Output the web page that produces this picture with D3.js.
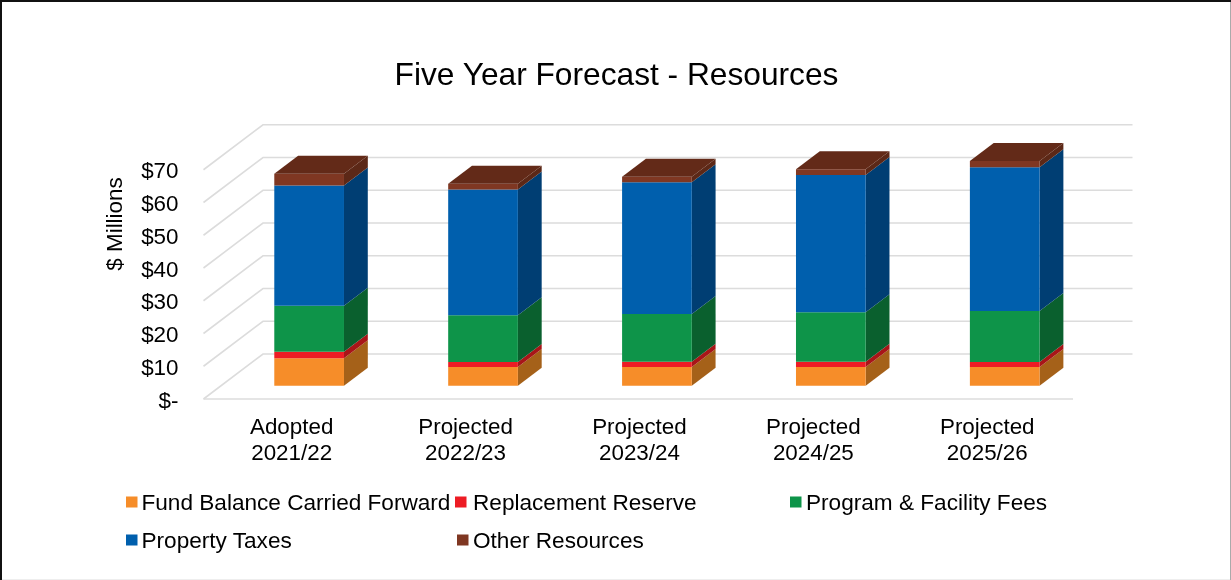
<!DOCTYPE html>
<html>
<head>
<meta charset="utf-8">
<script src="https://cdnjs.cloudflare.com/ajax/libs/d3/7.8.5/d3.min.js"></script>
<style>
html,body{margin:0;padding:0;background:#fff;overflow:hidden}
svg{display:block;font-family:"Liberation Sans",Arial,sans-serif;fill:#000;filter:blur(0.35px)}
</style>
</head>
<body>
<svg id="c" width="1231" height="580"></svg>
<script>
const categories = ["Adopted 2021/22","Projected 2022/23","Projected 2023/24","Projected 2024/25","Projected 2025/26"];
const seriesNames = ["Fund Balance Carried Forward","Replacement Reserve","Program & Facility Fees","Property Taxes","Other Resources"];
const fundBalance = [8.4,5.7,5.7,5.7,5.7];
const replacementReserve = [2.0,1.5,1.6,1.6,1.5];
const programFees = [14.0,14.3,14.6,15.1,15.6];
const propertyTaxes = [36.7,38.4,40.2,41.9,43.9];
const otherResources = [3.6,1.8,1.7,1.8,1.9];
const seriesValues = [fundBalance,replacementReserve,programFees,propertyTaxes,otherResources];
const frontColors = ["#F68D29","#ED1C24","#0E9449","#005FAD","#7F3722"];
const sideColors = ["#A56119","#A81518","#0A602E","#003E73","#5C2817"];
const topColor = "#632A18";
const yTicks = [0,10,20,30,40,50,60,70];

const svg = d3.select("#c");
const x = d3.scaleBand().domain(categories).range([203.5,1073]);
const y = d3.scaleLinear().domain([0,70]).range([399,169.75]);

// depth projection: fraction of the floor depth maps to a screen offset
const depthX = 59.5, depthY = -45;
const barFront = 13.3/45, barBack = 31.3/45;
const P = (px, val, d) => [px + depthX*d, y(val) + depthY*d];
const line = d3.line();
const poly = pts => line(pts) + "Z";

// frame
svg.append("rect").attr("width",1231).attr("height",580).attr("fill","#fff");
svg.append("path").attr("d","M1,580V1H1231").attr("fill","none").attr("stroke","#111").attr("stroke-width",2);
svg.append("path").attr("d","M1230.5,2V580").attr("fill","none").attr("stroke","#aaa").attr("stroke-width",1);
svg.append("path").attr("d","M2,579.5H1230").attr("fill","none").attr("stroke","#eee").attr("stroke-width",1);

// gridlines: wall diagonal + back line, floor front line
const grid = svg.append("g").attr("fill","none").attr("stroke","#DCDCDC").attr("stroke-width",1.6);
yTicks.forEach(t=>{
  grid.append("path").attr("d",line([P(203.5,t,0),P(203.5,t,1),P(1073,t,1)]));
});
grid.append("path").attr("d",line([P(203.5,0,0),P(1073,0,0)]));

// bars
const stacked = categories.map((c,i)=>{
  let s=0; return seriesValues.map((v,k)=>{const o={k,c,y0:s,y1:s+v[i]}; s+=v[i]; return o;});
});
const barW = 69.7, barShift = 1.1;
const barsG = svg.append("g");
stacked.forEach(st=>{
  const g = barsG.append("g");
  const c = st[0].c;
  const xl = x(c)+x.bandwidth()/2-barW/2+barShift, xr = xl+barW;
  st.forEach(d=>{
    g.append("path").attr("fill",sideColors[d.k]).attr("d",poly([P(xr,d.y0,barFront),P(xr,d.y0,barBack),P(xr,d.y1,barBack),P(xr,d.y1,barFront)]));
    g.append("path").attr("fill",frontColors[d.k]).attr("d",poly([P(xl,d.y0,barFront),P(xr,d.y0,barFront),P(xr,d.y1,barFront),P(xl,d.y1,barFront)]));
  });
  const t = st[st.length-1].y1;
  g.append("path").attr("fill",topColor).attr("d",poly([P(xl,t,barFront),P(xr,t,barFront),P(xr,t,barBack),P(xl,t,barBack)]));
});

const fs = 22.4, legendFs = 22.6, fam = "'Liberation Sans',Arial,sans-serif";
// y axis
const yAxis = d3.axisLeft(y).tickValues(yTicks).tickSize(0).tickPadding(0)
  .tickFormat(d=> d===0 ? "$-" : "$"+d);
const yG = svg.append("g").attr("transform","translate(178.5,0)").call(yAxis);
yG.select(".domain").remove();
yG.selectAll("text").attr("font-size",fs).attr("font-family",fam).attr("fill","#000").attr("dy","0.36em");

// x axis
const xAxis = d3.axisBottom(x).tickSize(0).tickPadding(0);
const xG = svg.append("g").attr("transform","translate(1.2,418)").call(xAxis);
xG.select(".domain").remove();
xG.selectAll("text").attr("font-size",fs).attr("font-family",fam).attr("fill","#000")
  .each(function(d){
    const parts = d.split(" ");
    const t = d3.select(this).text(null).attr("y",0).attr("dy",null);
    parts.forEach((p,i)=>t.append("tspan").attr("x",0).attr("y",i*26.5+15.5).text(p));
  });

// title
svg.append("text").attr("x",616.5).attr("y",84.7).attr("text-anchor","middle").attr("font-size",31.7).text("Five Year Forecast - Resources");
svg.append("text").attr("transform","translate(122,224) rotate(-90)").attr("text-anchor","middle").attr("font-size",fs).text("$ Millions");

// legend: swatch x, text x, row y
const legendPos = [[126,141.5,502],[455,473,502],[790,806,502],[126,141.5,540],[457,473,540]];
const legend = svg.append("g");
seriesNames.forEach((n,i)=>{
  const [sx,tx,ly] = legendPos[i];
  legend.append("rect").attr("x",sx).attr("y",ly-5.5).attr("width",11.5).attr("height",11).attr("fill",frontColors[i]);
  legend.append("text").attr("x",tx).attr("y",ly+7.5).attr("font-size",legendFs).text(n);
});
</script>
</body>
</html>
